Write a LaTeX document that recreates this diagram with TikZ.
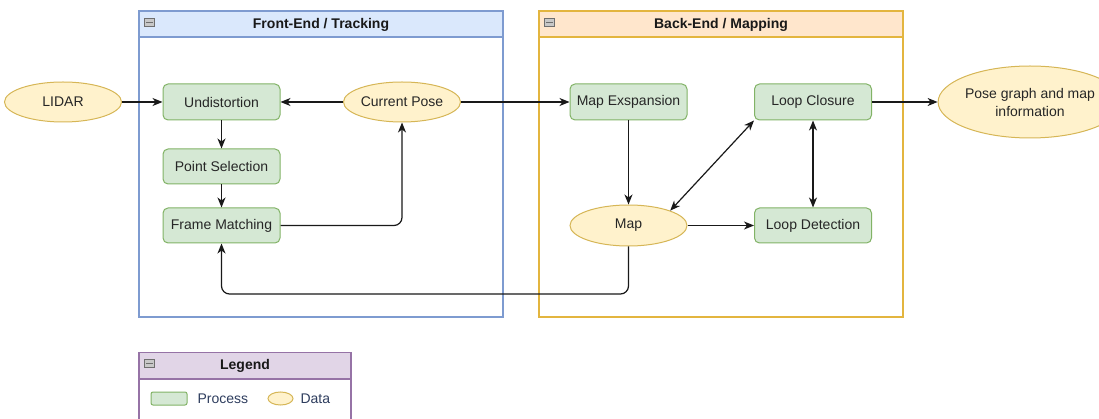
\documentclass[tikz,border=0pt]{standalone}
\usepackage{fontspec}
\setmainfont{Liberation Sans}
\usetikzlibrary{shapes.geometric,arrows.meta,positioning,calc}

\definecolor{procfill}{HTML}{D5E8D4}
\definecolor{procline}{HTML}{82B366}
\definecolor{datafill}{HTML}{FFF2CC}
\definecolor{dataline}{HTML}{D6B656}
\definecolor{feFill}{HTML}{DAE8FC}
\definecolor{feLine}{HTML}{7E9BD0}
\definecolor{beFill}{HTML}{FFE6CC}
\definecolor{beLine}{HTML}{E3B53F}
\definecolor{lgFill}{HTML}{E1D5E7}
\definecolor{lgLine}{HTML}{9673A6}
\definecolor{lgText}{HTML}{2E3D5E}
\definecolor{iconFill}{HTML}{C8C8C8}
\definecolor{iconLine}{HTML}{6E6E6E}

\tikzset{
  process/.style={draw=procline, fill=procfill, line width=1pt, rounded corners=5pt,
    minimum width=117pt, minimum height=36pt, inner sep=0pt, font=\fontsize{14}{18}\selectfont, text=black!85},
  data/.style={draw=dataline, fill=datafill, line width=1pt, ellipse,
    minimum width=117pt, minimum height=40pt, inner sep=0pt, font=\fontsize{14}{18}\selectfont, text=black!85, align=center},
  header/.style={font=\bfseries\fontsize{14}{16}\selectfont, text=black!90},
  frame/.style={fill=white, line width=1.4pt},
  conn/.style={line width=1.2pt, draw=black!90, -{Stealth[length=10pt,width=8pt,inset=3pt]}},
  biconn/.style={line width=1.2pt, draw=black!90, {Stealth[length=10pt,width=8pt,inset=3pt]}-{Stealth[length=10pt,width=8pt,inset=3pt]}},
  collapse/.style={draw=iconLine, fill=iconFill, line width=0.6pt, minimum width=10pt, minimum height=8pt, inner sep=0pt}
}

\begin{document}
\begin{tikzpicture}[x=1pt, y=-1pt]
\useasboundingbox (0,0) rectangle (1099,419);

% ---- containers ----
\draw[frame, draw=feLine] (139,11) rectangle (503,317);
\draw[frame, draw=feLine, fill=feFill] (139,11) rectangle (503,37);
\node[header] (feTitle) at (321,24.5) {Front-End / Tracking};
\node[collapse] (feIcon) at (149.5,22.5) {};
\draw[iconLine, line width=1pt] ($(feIcon.west)+(2,0)$) -- ($(feIcon.east)+(-2,0)$);

\draw[frame, draw=beLine] (539,11) rectangle (903,317);
\draw[frame, draw=beLine, fill=beFill] (539,11) rectangle (903,37);
\node[header] (beTitle) at (721,24.5) {Back-End / Mapping};
\node[collapse] (beIcon) at (549.5,22.5) {};
\draw[iconLine, line width=1pt] ($(beIcon.west)+(2,0)$) -- ($(beIcon.east)+(-2,0)$);

\draw[frame, draw=lgLine] (139,352.5) rectangle (351,425);
\draw[frame, draw=lgLine, fill=lgFill] (139,352.5) rectangle (351,379);
\node[header] (lgTitle) at (245,366) {Legend};
\node[collapse] (lgIcon) at (149.5,363.5) {};
\draw[iconLine, line width=1pt] ($(lgIcon.west)+(2,0)$) -- ($(lgIcon.east)+(-2,0)$);

% ---- nodes ----
\node[data]    (lidar) at (63,102)      {LIDAR};
\node[process] (und)   at (221.5,102)   {Undistortion};
\node[process, minimum height=35pt] (ps) at (221.5,166.5) {Point Selection};
\node[process, minimum height=35pt] (fm) at (221.5,225.5) {Frame Matching};
\node[data]    (cp)    at (402,102)     {Current Pose};

\node[process] (me)    at (628.5,102)   {Map Exspansion};
\node[process] (lc)    at (813,102)     {Loop Closure};
\node[data, minimum height=41pt] (map) at (628.5,225.5) {Map};
\node[process, minimum height=35pt] (ld) at (813,225.5) {Loop Detection};
\node[data, minimum width=136pt, minimum height=72pt] (pg) at (1030,102) {Pose graph and map\\information};

% ---- legend items ----
\node[draw=procline, fill=procfill, line width=1pt, rounded corners=2pt,
      minimum width=36pt, minimum height=13pt, inner sep=0pt] (lgProc) at (169,398.5) {};
\node[text=lgText, font=\fontsize{14}{16}\selectfont, anchor=west] (lgProcTxt) at (194,399) {Process};
\node[draw=dataline, fill=datafill, line width=1pt, ellipse,
      minimum width=25pt, minimum height=13pt, inner sep=0pt] (lgData) at (280.5,398.5) {};
\node[text=lgText, font=\fontsize{14}{16}\selectfont, anchor=west] (lgDataTxt) at (297,399) {Data};

% ---- connectors ----
\draw[conn] (lidar) -- (und);
\draw[conn] (cp) -- (und);
\draw[conn] (cp) -- (me);
\draw[conn] (und) -- (ps);
\draw[conn] (ps) -- (fm);
\draw[conn, rounded corners=8pt] (fm.east) -| (cp.south);
\draw[conn] (me) -- (map);
\draw[biconn] (map.north east) -- (lc.south west);
\draw[biconn] (lc) -- (ld);
\draw[conn] (map) -- (ld);
\draw[conn, rounded corners=8pt] (map.south) -- ++(0,47.5) -| (fm.south);
\draw[conn] (lc) -- (pg);
\end{tikzpicture}
\end{document}
